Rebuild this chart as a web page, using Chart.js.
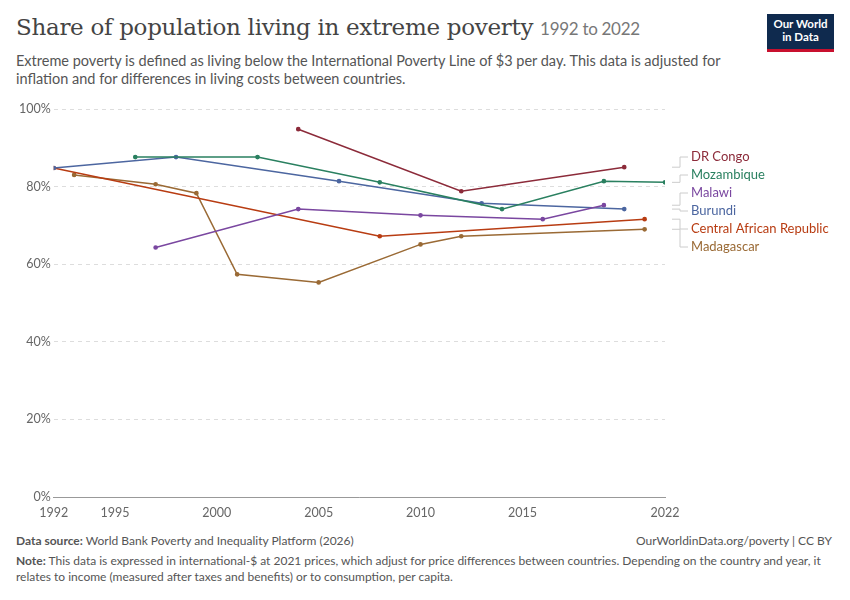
<!DOCTYPE html>
<html>
<head>
<meta charset="utf-8">
<script src="https://cdn.jsdelivr.net/npm/chart.js@4"></script>
<style>
  body { margin: 0; background: #fff; font-family: Lato, "Noto Sans", sans-serif; }
  #wrap { position: relative; width: 850px; height: 600px; }
  h1 { position: absolute; left: 16px; top: 14px; margin: 0; font-family: "DejaVu Serif", "Liberation Serif", serif; font-weight: normal; font-size: 23px; color: #444; letter-spacing: -0.3px; }
  h1 span { font-family: Lato, sans-serif; font-size: 17px; color: #777; }
  .sub { position: absolute; left: 16px; top: 52px; width: 760px; font-size: 14.5px; color: #555; line-height: 1.25; }
  .logo { position: absolute; right: 16px; top: 14px; width: 67px; height: 38px; background: #0f2a4e; color: #fff; font-size: 11.5px; font-weight: bold; text-align: center; line-height: 1.15; padding-top: 3px; box-sizing: border-box; border-bottom: 3px solid #c8102e; }
  #chartBox { position: absolute; left: 0; top: 96px; width: 850px; height: 427px; }
  .foot { position: absolute; left: 16px; font-size: 12px; color: #555; }
  .right { position: absolute; right: 18px; font-size: 12px; color: #555; }
</style>
</head>
<body>
<div id="wrap">
  <h1>Share of population living in extreme poverty <span>1992 to 2022</span></h1>
  <div class="sub">Extreme poverty is defined as living below the International Poverty Line of $3 per day. This data is adjusted for inflation and for differences in living costs between countries.</div>
  <div class="logo">Our World<br>in Data</div>
  <div id="chartBox"><canvas id="povertyChart"></canvas></div>
  <div class="foot" style="top:533px"><b>Data source:</b> World Bank Poverty and Inequality Platform (2026)</div>
  <div class="right" style="top:533px">OurWorldinData.org/poverty | CC BY</div>
  <div class="foot" style="top:553px;width:815px;line-height:1.3"><b>Note:</b> This data is expressed in international-$ at 2021 prices, which adjust for price differences between countries. Depending on the country and year, it relates to income (measured after taxes and benefits) or to consumption, per capita.</div>
</div>
<script>
const ctx = document.getElementById("povertyChart").getContext("2d");

const series = [
  { label: "DR Congo", color: "#8c2b3a", labelY: 157,
    data: [[2004, 94.8], [2012, 78.8], [2020, 85.0]] },
  { label: "Mozambique", color: "#2a8060", labelY: 175,
    data: [[1996, 87.6], [2002, 87.6], [2008, 81.1], [2014, 74.2], [2019, 81.4], [2022, 81.1]] },
  { label: "Malawi", color: "#7a47a0", labelY: 193,
    data: [[1997, 64.3], [2004, 74.2], [2010, 72.6], [2016, 71.6], [2019, 75.2]] },
  { label: "Burundi", color: "#4c66a0", labelY: 211,
    data: [[1992, 84.8], [1998, 87.6], [2006, 81.4], [2013, 75.7], [2020, 74.2]] },
  { label: "Central African Republic", color: "#b83c12", labelY: 229,
    data: [[1992, 84.8], [2008, 67.2], [2021, 71.6]] },
  { label: "Madagascar", color: "#9a6a35", labelY: 247,
    data: [[1993, 83.0], [1997, 80.6], [1999, 78.3], [2001, 57.4], [2005, 55.3], [2010, 65.1], [2012, 67.2], [2021, 69.0]] }
];

// labels on the right with little connector lines
const sideLabels = {
  id: "sideLabels",
  afterDatasetsDraw(chart) {
    const c = chart.ctx;
    c.save();
    c.font = "13px Lato, sans-serif";
    c.textBaseline = "middle";
    chart.data.datasets.forEach((ds, i) => {
      const meta = chart.getDatasetMeta(i);
      const last = meta.data[meta.data.length - 1];
      const ly = series[i].labelY - 96;
      c.strokeStyle = "#ccc";
      c.lineWidth = 1;
      c.beginPath();
      c.moveTo(672, last.y);
      c.lineTo(680, last.y);
      c.lineTo(680, ly);
      c.lineTo(688, ly);
      c.stroke();
      c.fillStyle = ds.borderColor;
      c.fillText(ds.label, 691, ly);
    });
    c.restore();
  }
};

new Chart(ctx, {
  type: "line",
  data: {
    datasets: series.map(s => ({
      label: s.label,
      data: s.data.map(([x, y]) => ({ x, y })),
      borderColor: s.color,
      backgroundColor: s.color,
      borderWidth: 1.5,
      pointRadius: 1.6,
      pointHoverRadius: 3,
      tension: 0
    }))
  },
  options: {
    responsive: true,
    maintainAspectRatio: false,
    animation: false,
    layout: { padding: { left: 16, right: 185, top: 13, bottom: 0 } },
    plugins: { legend: { display: false }, tooltip: { enabled: false } },
    scales: {
      x: {
        type: "linear",
        min: 1992,
        max: 2022,
        afterBuildTicks: axis => {
          axis.ticks = [1992, 1995, 2000, 2005, 2010, 2015, 2022].map(v => ({ value: v }));
        },
        grid: { display: false, drawTicks: true, tickLength: 5 },
        border: { color: "#999" },
        ticks: { color: "#666", font: { size: 12.5, family: "Lato" }, maxRotation: 0, callback: v => v }
      },
      y: {
        min: 0,
        max: 100,
        ticks: { stepSize: 20, color: "#666", font: { size: 12.5, family: "Lato" }, callback: v => v + "%" },
        grid: { color: "#ddd", drawTicks: false },
        border: { display: true, color: "rgba(0,0,0,0)", dash: [4, 4] }
      }
    }
  },
  plugins: [sideLabels]
});
</script>
</body>
</html>
